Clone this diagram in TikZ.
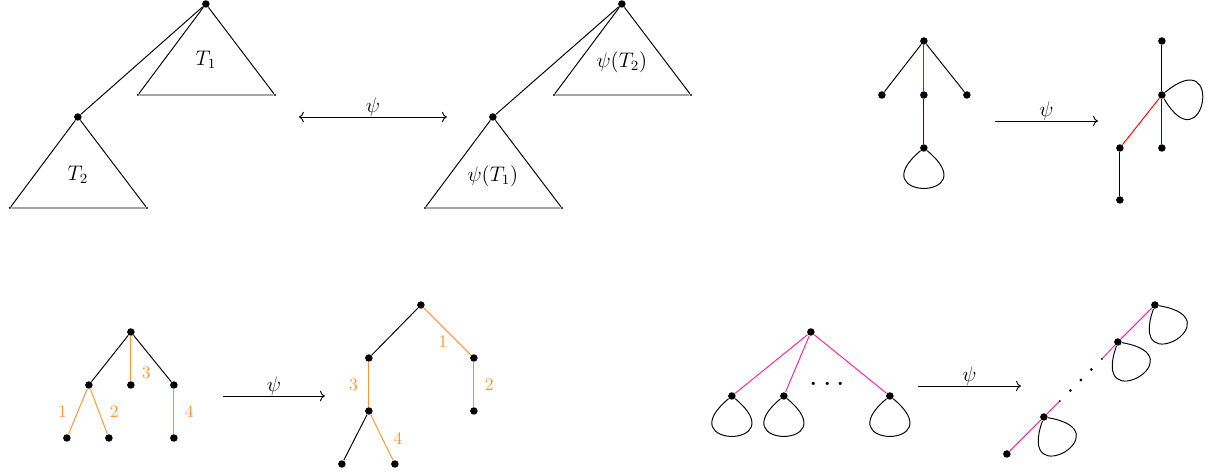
\documentclass[tikz,border=0pt]{standalone}
\usepackage{amsmath,amssymb}
\usepackage{xcolor}
\usepackage{tikz}
\usetikzlibrary{arrows.meta,calc}
\definecolor{edgeorange}{RGB}{255,150,50}
\definecolor{edgepink}{RGB}{240,40,160}

\begin{document}
\begin{tikzpicture}[x=0.02cm,y=-0.02cm,line width=0.55pt,
  vx/.style={circle,fill=black,inner sep=0pt,minimum size=1.5mm},
  cn/.style={circle,fill=black,inner sep=0pt,minimum size=0.45mm},
  tri/.style={font=\large},
  map/.style={font=\large,fill=white,inner sep=0pt,above=-0.3pt},
  num/.style={font=\normalsize,text=edgeorange,inner sep=1pt}]
\useasboundingbox (0,0) rectangle (1206,475);
\begin{scope}[xshift=0.5]
% top left: T_1, T_2
\node[vx] (r) at (205,4) {};
\node[vx] (s) at (77,117) {};
\node[cn] (a1) at (137,95) {};
\node[cn] (b1) at (274,95) {};
\node[cn] (a2) at (9,208) {};
\node[cn] (b2) at (146,208) {};
\draw (r) -- (a1) -- (b1) -- (r);
\draw (r) -- (s);
\draw (s) -- (a2) -- (b2) -- (s);
\node[tri] (t1) at (205,60) {$T_1$};
\node[tri] (t2) at (77,175) {$T_2$};

\coordinate (m1) at (298,117);
\coordinate (m2) at (446,117);
\draw[<->] (m1) -- (m2) node[map,midway] {$\psi$};

\node[vx] (pr) at (621,4) {};
\node[vx] (ps) at (492,117) {};
\node[cn] (c1) at (553,95) {};
\node[cn] (d1) at (690,95) {};
\node[cn] (c2) at (424,208) {};
\node[cn] (d2) at (561,208) {};
\draw (pr) -- (c1) -- (d1) -- (pr);
\draw (pr) -- (ps);
\draw (ps) -- (c2) -- (d2) -- (ps);
\node[tri] (pt2) at (621,62) {$\psi(T_2)$};
\node[tri] (pt1) at (492,176) {$\psi(T_1)$};

% top right
\node[vx] (ga) at (923,41) {};
\node[vx] (gb) at (881,95) {};
\node[vx] (gc) at (923,95) {};
\node[vx] (gd) at (966,95) {};
\node[vx] (ge) at (923,148) {};
\draw (ga) -- (gb);
\draw (ga) -- (gd);
\draw[red] (ga) -- (gc);
\draw[blue] (gc) -- (ge);
\draw (ge) .. controls ($(ge)+(-64,53)$) and ($(ge)+(64,53)$) .. (ge);

\coordinate (m3) at (994,121);
\coordinate (m4) at (1097,121);
\draw[->] (m3) -- (m4) node[map,midway] {$\psi$};

\node[vx] (ha) at (1161,41) {};
\node[vx] (hb) at (1161,95) {};
\node[vx] (hc) at (1119,148) {};
\node[vx] (hd) at (1161,148) {};
\node[vx] (he) at (1119,200) {};
\draw (ha) -- (hb);
\draw[red] (hb) -- (hc);
\draw[blue] (hb) -- (hd);
\draw (hc) -- (he);
\draw (hb) .. controls ($(hb)+(64,-53)$) and ($(hb)+(42,72)$) .. (hb);

% bottom left
\node[vx] (ka) at (130,332) {};
\node[vx] (kb) at (88,385) {};
\node[vx] (kc) at (130,385) {};
\node[vx] (kd) at (173,385) {};
\node[vx] (ke) at (66,438) {};
\node[vx] (kf) at (108,438) {};
\node[vx] (kg) at (173,438) {};
\draw (ka) -- (kb);
\draw (ka) -- (kd);
\draw[edgeorange] (ka) -- (kc) node[num,pos=0.82,right=5pt] {3};
\draw[edgeorange] (kb) -- (ke) node[num,midway,left=5pt] {1};
\draw[edgeorange] (kb) -- (kf) node[num,midway,right=5pt] {2};
\draw[edgeorange] (kd) -- (kg) node[num,midway,right=5pt] {4};

\coordinate (m5) at (222,396);
\coordinate (m6) at (324,396);
\draw[->] (m5) -- (m6) node[map,midway] {$\psi$};

\node[vx] (la) at (420,305) {};
\node[vx] (lb) at (368,358) {};
\node[vx] (lc) at (473,358) {};
\node[vx] (ld) at (368,411) {};
\node[vx] (le) at (473,411) {};
\node[vx] (lf) at (341,464) {};
\node[vx] (lg) at (394,464) {};
\draw (la) -- (lb);
\draw (ld) -- (lf);
\draw[edgeorange] (la) -- (lc) node[num,pos=0.55,below left] {1};
\draw[edgeorange] (lc) -- (le) node[num,midway,right=5pt] {2};
\draw[edgeorange] (lb) -- (ld) node[num,midway,left=5pt] {3};
\draw[edgeorange] (ld) -- (lg) node[num,pos=0.53,right=5pt] {4};

% bottom right
\node[vx] (na) at (810,332) {};
\node[vx] (nb) at (731,396) {};
\node[vx] (nc) at (783,396) {};
\node[vx] (nd) at (889,396) {};
\node (dots) at (829,385) {\LARGE$\cdots$};
\foreach \v in {nb,nc,nd} {
  \draw[edgepink] (na) -- (\v);
  \draw (\v) .. controls ($(\v)+(-64,53)$) and ($(\v)+(64,53)$) .. (\v);
}

\coordinate (m7) at (917,386);
\coordinate (m8) at (1020,386);
\draw[->] (m7) -- (m8) node[map,midway] {$\psi$};

\node[vx] (qa) at (1006,454) {};
\node[vx] (qb) at (1043,417) {};
\node[vx] (qc) at (1117,342) {};
\node[vx] (qd) at (1154,305) {};
\coordinate (e1) at (1059,401);
\coordinate (e2) at (1101,359);
\draw[edgepink] (qa) -- (qb) -- (e1);
\draw[edgepink] (e2) -- (qc) -- (qd);
\fill (e1) circle (1);
\fill (e2) circle (1);
\foreach \t in {0.25,0.5,0.75}
  \fill ($(e1)!\t!(e2)$) circle (1.6);
\foreach \v in {qb,qc,qd}
  \draw (\v) .. controls ($(\v)+(82,14)$) and ($(\v)+(-28,78)$) .. (\v);
\end{scope}
\end{tikzpicture}
\end{document}
